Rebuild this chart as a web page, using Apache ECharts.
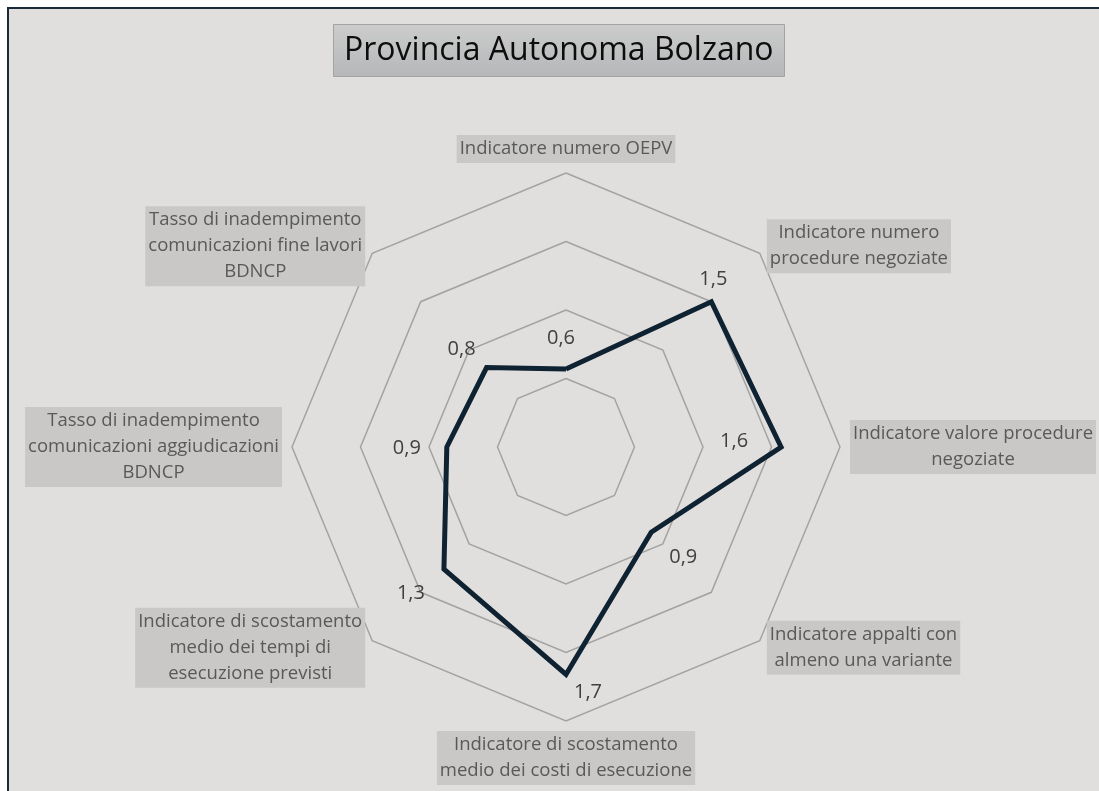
<!DOCTYPE html>
<html>
<head>
<meta charset="utf-8">
<title>Provincia Autonoma Bolzano</title>
<script src="https://cdn.jsdelivr.net/npm/echarts@6/dist/echarts.min.js"></script>
<style>
    html, body { margin: 0; padding: 0; background: #fff; }
    #frame {
        position: absolute; left: 7px; top: 7px; right: 0; bottom: 0;
        background: #e0dfdd;
        border-top: 2px solid #1b2a38;
        border-left: 2px solid #1b2a38;
    }
    #chart { position: absolute; left: 0; top: 0; width: 1099px; height: 791px; }
</style>
</head>
<body>
<div id="frame"></div>
<div id="chart"></div>
<script>
// indicatori, in senso orario a partire dall'alto
var categories = [
    'Indicatore numero OEPV',
    'Indicatore numero\nprocedure negoziate',
    'Indicatore valore procedure\nnegoziate',
    'Indicatore appalti con\nalmeno una variante',
    'Indicatore di scostamento\nmedio dei costi di esecuzione',
    'Indicatore di scostamento\nmedio dei tempi di\nesecuzione previsti',
    'Tasso di inadempimento\ncomunicazioni aggiudicazioni\nBDNCP',
    'Tasso di inadempimento\ncomunicazioni fine lavori\nBDNCP'
];
var values = [0.57, 1.5, 1.57, 0.88, 1.66, 1.26, 0.87, 0.82];
var axisMin = 0;
var axisMax = 2;
var splitCount = 4;

// spostamento delle etichette rispetto al punto (stesso ordine di categories)
var labelOffsets = [[-5, -31], [2, -22], [-47, -6], [32, 25], [22, 18], [-33, 24], [-40, 1], [-25, -18]];

var center = [566, 447]
    ,radius = 274
    ,lineColor = '#0f2232';

// echarts dispone gli assi in senso antiorario
var order = [0, 7, 6, 5, 4, 3, 2, 1];
var indicators = order.map(function (i) {
    return { name: categories[i], min: axisMin, max: axisMax };
});
var seriesValues = order.map(function (i) { return values[i]; });

function fmt(v) {
    return v.toFixed(1).replace('.', ',');
}

var chart = echarts.init(document.getElementById('chart'), null, { renderer: 'canvas' });

chart.setOption({
    animation: false,
    title: {
        text: 'Provincia Autonoma Bolzano',
        left: 333,
        top: 24,
        padding: [6, 11],
        borderColor: '#a3a3a3',
        borderWidth: 1,
        backgroundColor: {
            type: 'linear', x: 0, y: 0, x2: 0, y2: 1,
            colorStops: [{ offset: 0, color: '#cccccc' }, { offset: 1, color: '#b5b7b8' }]
        },
        textStyle: {
            color: '#0d0d0d',
            fontSize: 32,
            fontWeight: 'normal',
            fontFamily: 'Open Sans',
            lineHeight: 41
        }
    },
    radar: {
        center: center,
        radius: radius,
        startAngle: 90,
        splitNumber: splitCount,
        shape: 'polygon',
        nameGap: 10,
        indicator: indicators,
        axisName: {
            color: '#595959',
            fontSize: 18.5,
            fontFamily: 'Open Sans',
            lineHeight: 26,
            backgroundColor: '#c9c8c6',
            padding: [1, 3],
            // righe centrate nel riquadro
            formatter: function (name) {
                return name.split('\n').map(function (l) {
                    return '{c|' + l + '}';
                }).join('\n');
            },
            rich: {
                c: {
                    align: 'center',
                    color: '#595959',
                    fontSize: 18.5,
                    fontFamily: 'Open Sans',
                    lineHeight: 26
                }
            }
        },
        splitLine: { lineStyle: { color: '#a3a3a3', width: 1.5 } },
        splitArea: { show: false },
        axisLine: { show: false },
        axisTick: { show: false },
        axisLabel: { show: false }
    },
    series: [{
        type: 'radar',
        symbol: 'circle',
        symbolSize: 2,
        itemStyle: { color: lineColor },
        lineStyle: { color: lineColor, width: 5, join: 'miter' },
        label: {
            show: true,
            color: '#404040',
            fontSize: 20,
            fontFamily: 'Open Sans',
            formatter: function (p) {
                var v = Array.isArray(p.value) ? p.value[0] : p.value;
                return fmt(v);
            }
        },
        labelLayout: function (p) {
            var cx = p.rect.x + p.rect.width / 2
                ,cy = p.rect.y + p.rect.height / 2;
            var ang = Math.atan2(cx - center[0], center[1] - cy);
            if (ang < 0) ang += Math.PI * 2;
            var k = Math.round(ang / (Math.PI / 4)) % 8;
            return {
                x: cx + labelOffsets[k][0],
                y: cy + labelOffsets[k][1],
                align: 'center',
                verticalAlign: 'middle'
            };
        },
        data: [{ value: seriesValues, name: 'Provincia Autonoma Bolzano' }]
    }]
});
</script>
</body>
</html>
